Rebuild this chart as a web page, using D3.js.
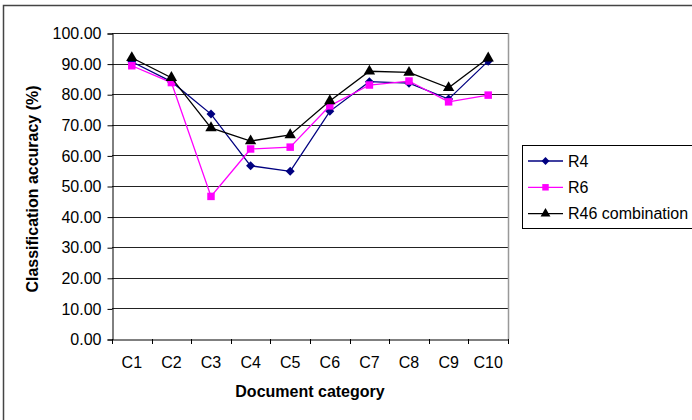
<!DOCTYPE html>
<html><head><meta charset="utf-8">
<script src="https://cdn.jsdelivr.net/npm/d3@7"></script>
<style>body{margin:0;background:#fff}svg{display:block;font-family:"Liberation Sans",Arial,sans-serif}</style>
</head><body><svg id="c" width="692" height="420"></svg>
<script>
const categories = ["C1","C2","C3","C4","C5","C6","C7","C8","C9","C10"];
const r4 = [90.6, 84.1, 73.5, 56.6, 54.8, 74.4, 84.1, 83.6, 78.4, 90.8];
const r6 = [89.3, 83.8, 46.6, 62.1, 62.7, 76.2, 83.0, 84.3, 77.5, 79.7];
const r46 = [91.9, 85.4, 69.0, 64.7, 66.7, 77.8, 87.5, 87.1, 82.1, 91.8];
const yTicks = [0,10,20,30,40,50,60,70,80,90,100];
const seriesNames = ["R4","R6","R46 combination"];

const svg = d3.select("#c");
const L = 112, R = 508, T = 33, B = 339;
const FS = 16;
const x = d3.scaleBand().domain(categories).range([L, R]);
const y = d3.scaleLinear().domain([0, 100]).range([B, T]);

// outer border
svg.append("path").attr("d","M3.5,420 V5.5 H692").attr("fill","none").attr("stroke","#444").attr("stroke-width",1.5);

// gridlines
svg.append("g").selectAll("line").data(yTicks.filter(d=>d>0)).join("line")
  .attr("x1",L).attr("x2",R).attr("y1",d=>Math.round(y(d))+0.5).attr("y2",d=>Math.round(y(d))+0.5)
  .attr("stroke","#222").attr("stroke-width",1);
// right border of plot
svg.append("line").attr("x1",R+0.5).attr("x2",R+0.5).attr("y1",T).attr("y2",B).attr("stroke","#999").attr("stroke-width",1.5);

// axes
const yAxis = d3.axisLeft(y).tickValues(yTicks).tickFormat(d=>d3.format(".2f")(d)).tickSize(5).tickPadding(6);
const gy = svg.append("g").attr("transform",`translate(${L+0.5},0.5)`).call(yAxis);
gy.attr("font-size",FS).attr("font-family","Liberation Sans, Arial, sans-serif");
gy.selectAll("text").attr("fill","#000");
gy.selectAll("line,path").attr("stroke","#000");

const xAxis = d3.axisBottom(x).tickSize(0).tickPadding(17);
const gx = svg.append("g").attr("transform",`translate(0,${B+0.5})`).call(xAxis);
gx.attr("font-size",FS).attr("font-family","Liberation Sans, Arial, sans-serif");
gx.select(".domain").attr("stroke","#000");
gx.selectAll("text").attr("fill","#000");
// x ticks at band boundaries
const bounds = categories.map(c=>x(c)).concat([R]);
svg.append("g").selectAll("line").data(bounds).join("line")
  .attr("x1",d=>Math.round(d)+0.5).attr("x2",d=>Math.round(d)+0.5).attr("y1",B).attr("y2",B+5).attr("stroke","#000");

// titles
svg.append("text").attr("x",310).attr("y",397).attr("text-anchor","middle").attr("font-weight","bold").attr("font-size",16).text("Document category");
svg.append("text").attr("transform","translate(38,189) rotate(-90)").attr("text-anchor","middle").attr("font-weight","bold").attr("font-size",16).text("Classification accuracy (%)");

const cx = c => x(c) + x.bandwidth()/2;
const line = d3.line().x((d,i)=>cx(categories[i])).y(d=>y(d));
const series = [
  {name:seriesNames[0], data:r4, color:"#000080", sym:d3.symbolDiamond2, size:52},
  {name:seriesNames[1], data:r6, color:"#ff00ff", sym:d3.symbolSquare, size:56},
  {name:seriesNames[2], data:r46, color:"#000000", sym:d3.symbolTriangle, size:56}
];
series.forEach(s=>{
  svg.append("path").datum(s.data).attr("d",line).attr("fill","none").attr("stroke",s.color).attr("stroke-width",1.3);
  svg.append("g").selectAll("path").data(s.data).join("path")
    .attr("d",d3.symbol().type(s.sym).size(s.size))
    .attr("transform",(d,i)=>`translate(${cx(categories[i])},${y(d)})`)
    .attr("fill",s.color);
});

// legend
const lg = svg.append("g");
lg.append("rect").attr("x",522.5).attr("y",145.5).attr("width",175).attr("height",83).attr("fill","#fff").attr("stroke","#000");
series.forEach((s,i)=>{
  const yy = 161 + i*26.3;
  lg.append("line").attr("x1",528).attr("x2",563).attr("y1",yy).attr("y2",yy).attr("stroke",s.color).attr("stroke-width",1.3);
  lg.append("path").attr("d",d3.symbol().type(s.sym).size(s.size*0.75)).attr("transform",`translate(545.5,${yy})`).attr("fill",s.color);
  lg.append("text").attr("x",568).attr("y",yy+5.5).attr("font-size",FS).text(s.name);
});
</script></body></html>
